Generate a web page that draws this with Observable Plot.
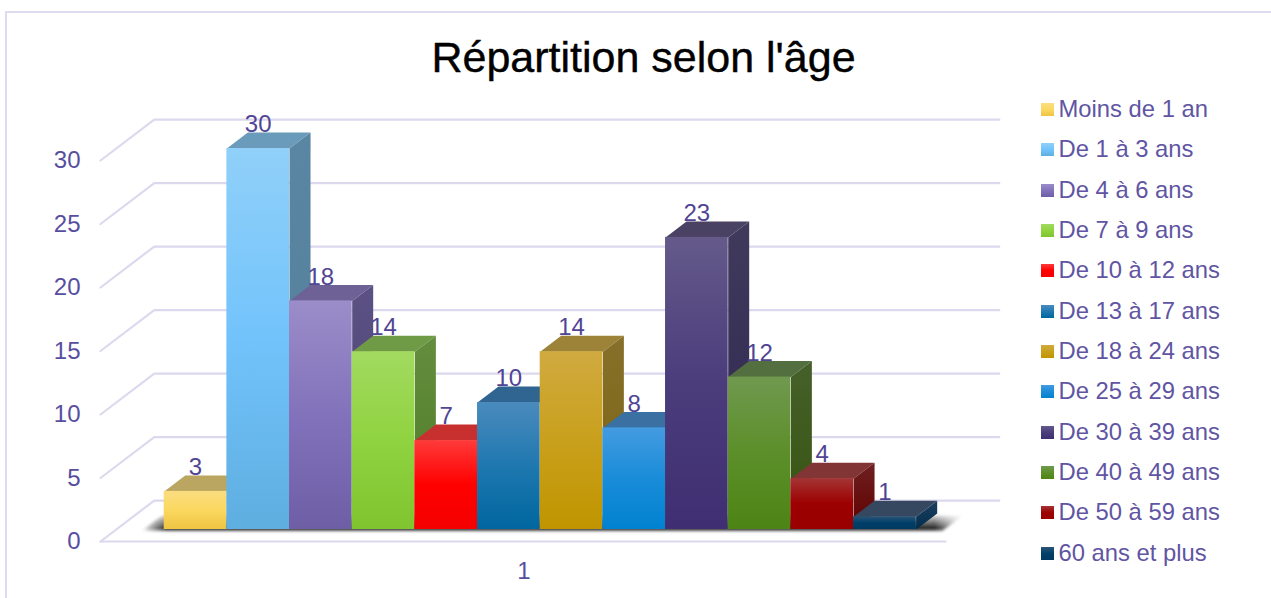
<!DOCTYPE html>
<html lang="fr">
<head>
<meta charset="utf-8">
<script src="https://cdn.jsdelivr.net/npm/d3@7"></script>
<script src="https://cdn.jsdelivr.net/npm/@observablehq/plot@0.6"></script>
<style>
  html, body { margin: 0; padding: 0; background: #fff; overflow: hidden; }
  #page { position: relative; width: 1271px; height: 598px; font-family: "Liberation Sans", Arial, sans-serif; }
  #page > svg, #chart svg { position: absolute; left: 0; top: 0; display: block; }
  #frame { position: absolute; left: 5px; top: 11px; right: 0; bottom: 0; border-left: 2px solid #dedcf0; border-top: 2px solid #dedcf0; }
  #title { position: absolute; left: 0; top: 32px; width: 1287px; text-align: center; font-size: 43px; line-height: 50px; color: #000; -webkit-text-stroke: 0.4px #000; }
  #legend { position: absolute; left: 1041px; top: 89px; color: #5f55a3; font-size: 23.8px; }
  #legend div { height: 40.35px; line-height: 40.35px; white-space: nowrap; position: relative; padding-left: 17.5px; }
  #legend i { position: absolute; left: 0; top: 14px; width: 13px; height: 13px; }
</style>
</head>
<body>
<div id="page">
  <div id="frame"></div>
  <div id="chart"></div>
  <div id="title">Répartition selon l'âge</div>
  <div id="legend"></div>
</div>
<script>
const ageGroups = ["Moins de 1 an","De 1 à 3 ans","De 4 à 6 ans","De 7 à 9 ans","De 10 à 12 ans","De 13 à 17 ans","De 18 à 24 ans","De 25 à 29 ans","De 30 à 39 ans","De 40 à 49 ans","De 50 à 59 ans","60 ans et plus"];
const counts = [3,30,18,14,7,10,14,8,23,12,4,1];
const yTicks = [0,5,10,15,20,25,30];
const xCategoryLabel = "1";

const frontColors = [
  ["#fbdd80","#fbd860","#eec442"],
  ["#90d0f9","#72c3fb","#5eaee0"],
  ["#9b8dc9","#8272bb","#6e5ea6"],
  ["#a2da60","#90d340","#80c430"],
  ["#ff3a3a","#ff0000","#f40000"],
  ["#4a8bbd","#1f78b0","#00669f"],
  ["#d0aa40","#c9a01c","#c09500"],
  ["#449be1","#1a8cd8","#0082d0"],
  ["#645a8a","#4b3c7c","#3f2f72"],
  ["#70994f","#5c8f2a","#4d8415"],
  ["#a53434","#9c0000","#990000"],
  ["#2c5476","#003f69","#003a62"]
];
const topColors = ["#baa660","#6b9bbb","#6e6196","#6f9a46","#c83030","#2f6590","#9c8338","#3a70a2","#4a4263","#546f3f","#823535","#354860"];
const sideColors = [
  ["#a8954e","#947e30"],["#5a86a3","#527e9a"],["#5c5184","#4a4070"],["#648e3e","#4e7a25"],
  ["#a00000","#800000"],["#275a85","#0c4a75"],["#86702a","#7c6410"],["#2f6ea5","#0a5a95"],
  ["#403a5c","#2d2650"],["#46602a","#365410"],["#6e2020","#600000"],["#1f3f5e","#002d4d"]
];
const axisColor = "#574ea0";
const labelColor = "#4f4594";
const gridColor = "#dcd9ee";

// Oblique projection, in data units: one depth step moves a point this far on each scale.
const depthX = 21 / 62.67;
const depthY = 16 / 12.7;
const project = (slot, value, depth) => ({x: slot + depth * depthX, y: value + depth * depthY});
const face = pts => pts.map(([s, v, d]) => project(s, v, d));

const floorFront = -0.75, floorBack = 1.81, floorLeft = -0.765, floorRight = 12.72;

const marks = [];

// Wall and floor grid
const gridLines = yTicks.flatMap(t => [
  {t, ...project(floorLeft, t, floorFront)},
  {t, ...project(floorLeft, t, floorBack)},
  {t, ...project(floorRight, t, floorBack)}
]);
marks.push(Plot.line(gridLines, {x: "x", y: "y", z: "t", stroke: gridColor, strokeWidth: 2.2}));
marks.push(Plot.line(face([[floorLeft,0,floorFront],[floorRight,0,floorFront]]), {x: "x", y: "y", stroke: gridColor, strokeWidth: 2.2}));

// Shadow cast on the floor: dark footprint, softened outward and towards the back
marks.push(Plot.line(face([[-0.36,-0.1,0],[12.42,-0.1,0],[12.42,-0.1,1],[-0.36,-0.1,1]]), {
  x: "x", y: "y", fill: "url(#shadow)", stroke: "none", imageFilter: "blur(1.6px)"
}));
marks.push(Plot.line(face([[-0.5,0.1,0],[12.7,0.1,0],[12.7,0.1,1.15],[-0.5,0.1,1.15]]), {
  x: "x", y: "y", fill: "url(#shadowFade)", stroke: "none"
}));

// Bars, painted left to right
counts.forEach((v, i) => {
  marks.push(Plot.line(face([[i,v,0],[i+1,v,0],[i+1,v,1],[i,v,1]]), {x: "x", y: "y", fill: topColors[i], stroke: "none"}));
  marks.push(Plot.line(face([[i+1,0,0],[i+1,v,0],[i+1,v,1],[i+1,0,1]]), {x: "x", y: "y", fill: `url(#side${i})`, stroke: "none"}));
  marks.push(Plot.rect([{i, v}], {x1: d => d.i, x2: d => d.i + 1, y1: 0, y2: d => d.v, fill: `url(#front${i})`}));
});

// Value labels
marks.push(Plot.text(counts.map((v, i) => ({v, slot: i + 0.5})), {
  x: "slot", y: "v", text: d => String(d.v), dy: -24, fontSize: 24, fill: labelColor
}));

// Axes
marks.push(Plot.axisY(yTicks, {anchor: "left", tickSize: 0, tickPadding: 0, dy: 12, fontSize: 24, color: axisColor, label: null, tickFormat: d => String(d)}));
marks.push(Plot.text([xCategoryLabel], {
  x: () => (floorLeft + floorRight) / 2 + floorFront * depthX,
  y: () => floorFront * depthY,
  text: d => d, dx: 1, dy: 30, fontSize: 24, fill: axisColor
}));

const chart = Plot.plot({
  width: 1271, height: 598,
  marginLeft: 80, marginRight: 0, marginTop: 0, marginBottom: 0,
  style: {fontFamily: "'Liberation Sans', Arial, sans-serif", background: "transparent"},
  x: {type: "linear", domain: [0, 12], range: [163.7, 915.7], axis: null},
  y: {type: "linear", domain: [0, 30], range: [529, 148], axis: null},
  marks
});

// Gradients referenced by the marks
const defs = d3.select(chart).insert("defs", ":first-child");
const addGradient = (id, colors) => {
  const g = defs.append("linearGradient").attr("id", id).attr("x1", 0).attr("y1", 0).attr("x2", 0).attr("y2", 1);
  colors.forEach((c, k) => g.append("stop").attr("offset", k / (colors.length - 1)).attr("stop-color", c));
};
frontColors.forEach((c, i) => addGradient(`front${i}`, c));
sideColors.forEach((c, i) => addGradient(`side${i}`, c));
const shadow = defs.append("linearGradient").attr("id", "shadow");
[[0, "#fff"], [0.03, "#333"], [0.965, "#333"], [1, "#fff"]].forEach(([o, c]) =>
  shadow.append("stop").attr("offset", o).attr("stop-color", c));
const fade = defs.append("linearGradient").attr("id", "shadowFade").attr("x1", 0).attr("y1", 0).attr("x2", 0).attr("y2", 1);
[[0, "#fff", 1], [0.2, "#fff", 0.95], [0.95, "#fff", 0]].forEach(([o, c, a]) =>
  fade.append("stop").attr("offset", o).attr("stop-color", c).attr("stop-opacity", a));
document.getElementById("chart").append(chart);

// Legend
const legend = d3.select("#legend");
ageGroups.forEach((name, i) => {
  const row = legend.append("div").text(name);
  row.append("i").style("background", `linear-gradient(${frontColors[i].join(",")})`);
});
</script>
</body>
</html>
